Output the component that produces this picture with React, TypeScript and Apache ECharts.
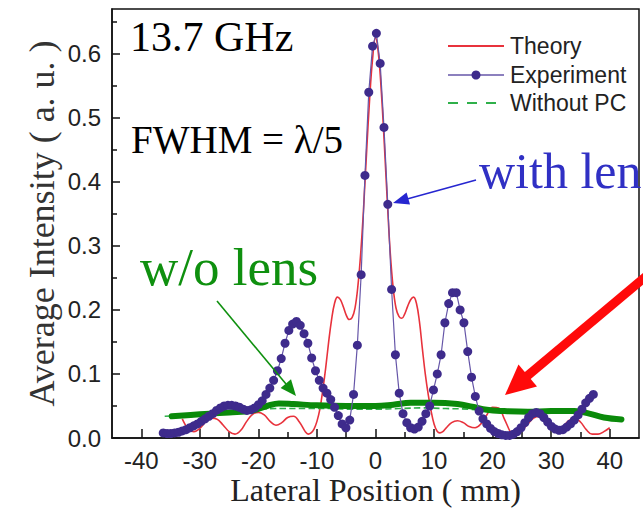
import React, { useEffect, useRef } from "react";
import * as echarts from "echarts";

// ---------- data ----------
const theoryX = [-33, -32.5, -32, -31, -30, -29, -28, -27, -26, -25, -24, -23, -22, -21, -20, -19, -18, -17, -16, -15, -14, -13, -12, -11.5, -11, -10.5, -10, -9.5, -9, -8.5, -8, -7.5, -7, -6.5, -6, -5.5, -5, -4.5, -4, -3.5, -3, -2.5, -2, -1.5, -1, -0.5, 0, 0.5, 1, 1.5, 2, 2.5, 3, 3.5, 4, 4.5, 5, 5.5, 6, 6.5, 7, 7.5, 8, 8.5, 9, 9.5, 10, 10.5, 11, 11.5, 12, 13, 14, 15, 16, 17, 18, 19, 20, 21, 22, 23, 23.5, 24, 25, 26, 27, 28, 29, 30, 31, 32, 33, 34, 35, 36, 37, 38, 39, 40];
const theoryY = [0.030, 0.021, 0.014, 0.010, 0.015, 0.025, 0.031, 0.029, 0.020, 0.010, 0.006, 0.012, 0.026, 0.037, 0.040, 0.036, 0.026, 0.020, 0.024, 0.032, 0.034, 0.025, 0.010, 0.006, 0.008, 0.014, 0.026, 0.045, 0.075, 0.110, 0.150, 0.185, 0.210, 0.220, 0.216, 0.205, 0.192, 0.185, 0.188, 0.203, 0.238, 0.292, 0.365, 0.450, 0.530, 0.592, 0.625, 0.600, 0.540, 0.460, 0.372, 0.292, 0.236, 0.203, 0.190, 0.187, 0.194, 0.206, 0.216, 0.220, 0.210, 0.182, 0.140, 0.100, 0.068, 0.042, 0.022, 0.011, 0.008, 0.010, 0.015, 0.024, 0.027, 0.024, 0.018, 0.016, 0.022, 0.036, 0.048, 0.047, 0.030, 0.010, 0.005, 0.006, 0.012, 0.022, 0.031, 0.034, 0.030, 0.021, 0.015, 0.018, 0.027, 0.031, 0.025, 0.013, 0.006, 0.006, 0.010, 0.016];

const expX = [-36.25, -35.6, -34.95, -34.3, -33.65, -33.0, -32.35, -31.7, -31.05, -30.4, -29.75, -29.1, -28.45, -27.8, -27.15, -26.5, -25.85, -25.2, -24.55, -23.9, -23.25, -22.6, -21.95, -21.3, -20.65, -20.0, -19.35, -18.7, -18.05, -17.4, -16.75, -16.1, -15.45, -14.8, -14.15, -13.5, -12.85, -12.2, -11.55, -10.9, -10.25, -9.6, -8.95, -8.3, -7.65, -7.0, -6.35, -5.7, -5.05, -4.4, -3.75, -3.1, -2.45, -1.8, -1.15, -0.5, 0.15, 0.8, 1.45, 2.1, 2.75, 3.4, 4.05, 4.7, 5.35, 6.0, 6.65, 7.3, 7.95, 8.6, 9.25, 9.9, 10.55, 11.2, 11.85, 12.5, 13.15, 13.8, 14.45, 15.1, 15.75, 16.4, 17.05, 17.7, 18.35, 19.0, 19.65, 20.3, 20.95, 21.6, 22.25, 22.9, 23.55, 24.2, 24.85, 25.5, 26.15, 26.8, 27.45, 28.1, 28.75, 29.4, 30.05, 30.7, 31.35, 32.0, 32.65, 33.3, 33.95, 34.6, 35.25, 35.9, 36.55, 37.2];
const expY = [0.008, 0.007, 0.007, 0.008, 0.009, 0.011, 0.013, 0.016, 0.019, 0.022, 0.026, 0.030, 0.034, 0.038, 0.043, 0.047, 0.050, 0.051, 0.051, 0.050, 0.048, 0.045, 0.043, 0.044, 0.047, 0.052, 0.058, 0.068, 0.078, 0.090, 0.105, 0.124, 0.148, 0.168, 0.178, 0.182, 0.176, 0.163, 0.148, 0.125, 0.105, 0.090, 0.078, 0.070, 0.060, 0.048, 0.035, 0.022, 0.016, 0.028, 0.068, 0.145, 0.255, 0.410, 0.540, 0.612, 0.632, 0.585, 0.485, 0.365, 0.232, 0.130, 0.070, 0.038, 0.024, 0.016, 0.014, 0.017, 0.026, 0.038, 0.050, 0.075, 0.100, 0.130, 0.180, 0.210, 0.227, 0.227, 0.200, 0.180, 0.135, 0.095, 0.065, 0.042, 0.030, 0.022, 0.015, 0.010, 0.007, 0.005, 0.004, 0.004, 0.006, 0.010, 0.016, 0.024, 0.032, 0.038, 0.040, 0.038, 0.032, 0.025, 0.018, 0.014, 0.012, 0.013, 0.017, 0.022, 0.028, 0.036, 0.045, 0.055, 0.062, 0.068];

const noPcX = [-36, -32, -28, -24, -20, -16, -12, -8, -4, 0, 4, 8, 12, 16, 20, 24, 28, 32, 37];
const noPcY = [0.034, 0.036, 0.039, 0.042, 0.045, 0.046, 0.046, 0.046, 0.045, 0.045, 0.046, 0.047, 0.046, 0.045, 0.042, 0.040, 0.039, 0.039, 0.037];

const handX = [-34.8, -30, -25, -21, -18.5, -16.5, -14, -10, -5, 0, 3, 6, 10, 14, 16.5, 19, 22, 26, 30, 34, 36.5, 39, 42];
const handY = [0.034, 0.037, 0.040, 0.043, 0.050, 0.054, 0.053, 0.051, 0.050, 0.050, 0.052, 0.055, 0.055, 0.053, 0.049, 0.044, 0.042, 0.041, 0.042, 0.042, 0.038, 0.032, 0.029];

const xMajor = [-40, -30, -20, -10, 0, 10, 20, 30, 40];
const xMinor = [-35, -25, -15, -5, 5, 15, 25, 35];
const yMajor = [0, 0.1, 0.2, 0.3, 0.4, 0.5, 0.6];
const yMinor = [0.05, 0.15, 0.25, 0.35, 0.45, 0.55, 0.65];

const legendNames = ["Theory", "Experiment", "Without PC"];

const zip = (xs: number[], ys: number[]) => xs.map((x, i) => [x, ys[i]]);

const SERIF = "Liberation Serif";
const SANS = "Liberation Sans";
const AX = "#111";
const RED = "#e8323c";
const PURPLE = "#3e2b8c";
const PLINE = "#6656a8";
const DGREEN = "#2fb04a";

export default function App() {
  const ref = useRef<HTMLDivElement>(null);
  useEffect(() => {
    document.body.style.margin = "0";
    const chart = echarts.init(ref.current!, undefined, { renderer: "svg" });
    const tickLine = { color: AX, width: 1.5 };
    const legX = 448;
    const legW = 56;
    const legY = [46, 75, 103];
    const option: any = {
      animation: false,
      backgroundColor: "#fff",
      grid: {
        left: 112, right: 4, top: 9, bottom: 70, show: true, borderColor: AX, borderWidth: 1.5,
        containLabel: false, outerBoundsMode: "none",
      },
      xAxis: [
        {
          type: "value", min: -45, max: 45, position: "bottom",
          axisLine: { show: true, onZero: false, lineStyle: tickLine },
          axisTick: { show: true, inside: true, length: 9, customValues: xMajor, lineStyle: tickLine },
          axisLabel: { customValues: xMajor, margin: 10, fontSize: 24, fontFamily: SANS, color: "#222", formatter: (v: number) => String(v) },
          splitLine: { show: false },
          name: "Lateral Position ( mm)", nameLocation: "middle", nameGap: 36, nameMoveOverlap: false,
          nameTextStyle: { fontSize: 32, fontFamily: SERIF, color: "#222" },
        },
        {
          type: "value", min: -45, max: 45, position: "bottom",
          axisLine: { show: false, onZero: false },
          axisTick: { show: true, inside: true, length: 6, customValues: xMinor, lineStyle: tickLine },
          axisLabel: { show: false },
          splitLine: { show: false },
        },
      ],
      yAxis: [
        {
          type: "value", min: 0, max: 0.67, position: "left",
          axisLine: { show: true, onZero: false, lineStyle: tickLine },
          axisTick: { show: true, inside: true, length: 8, customValues: yMajor, lineStyle: tickLine },
          axisLabel: { customValues: yMajor, margin: 11, fontSize: 24, fontFamily: SANS, color: "#222", formatter: (v: number) => v.toFixed(1) },
          splitLine: { show: false },
          name: "Average Intensity ( a. u. )", nameLocation: "middle", nameGap: 52, nameMoveOverlap: false,
          nameTextStyle: { fontSize: 36, fontFamily: SERIF, color: "#333" },
        },
        {
          type: "value", min: 0, max: 0.67, position: "left",
          axisLine: { show: false, onZero: false },
          axisTick: { show: true, inside: true, length: 5, customValues: yMinor, lineStyle: tickLine },
          axisLabel: { show: false },
          splitLine: { show: false },
        },
      ],
      series: [
        {
          name: legendNames[0], type: "line", data: zip(theoryX, theoryY), smooth: 0.4,
          symbol: "none", color: RED,
          lineStyle: { color: RED, width: 1.6 }, z: 2,
        },
        {
          name: legendNames[2], type: "line", data: zip(noPcX, noPcY), smooth: true,
          symbol: "none", color: DGREEN,
          lineStyle: { color: DGREEN, width: 1.6, type: "dashed" }, z: 3,
        },
        {
          name: "hand", type: "line", data: zip(handX, handY), smooth: 0.4,
          symbol: "none", color: "#0a8a0a",
          lineStyle: { color: "#0a8a0a", width: 6, cap: "round" }, z: 4,
        },
        {
          name: legendNames[1], type: "line", data: zip(expX, expY),
          symbol: "circle", symbolSize: 9, showSymbol: true, color: PURPLE,
          itemStyle: { color: PURPLE },
          lineStyle: { color: PLINE, width: 1.2 }, z: 5,
        },
      ],
      graphic: [
        // legend
        { type: "line", z: 60, shape: { x1: legX, y1: legY[0], x2: legX + legW, y2: legY[0] }, style: { stroke: RED, lineWidth: 2.2 } },
        { type: "line", z: 60, shape: { x1: legX, y1: legY[1], x2: legX + legW, y2: legY[1] }, style: { stroke: PLINE, lineWidth: 1.6 } },
        { type: "circle", z: 61, shape: { cx: legX + legW / 2, cy: legY[1], r: 4.5 }, style: { fill: PURPLE } },
        { type: "line", z: 60, shape: { x1: legX, y1: legY[2], x2: legX + legW, y2: legY[2] }, style: { stroke: DGREEN, lineWidth: 1.8, lineDash: [10, 9] } },
        { type: "text", z: 60, x: 510, y: legY[0], style: { text: legendNames[0], fontSize: 23, fontFamily: SANS, fill: "#222", verticalAlign: "middle", align: "left" } },
        { type: "text", z: 60, x: 510, y: legY[1], style: { text: legendNames[1], fontSize: 23, fontFamily: SANS, fill: "#222", verticalAlign: "middle", align: "left" } },
        { type: "text", z: 60, x: 510, y: legY[2], style: { text: legendNames[2], fontSize: 23, fontFamily: SANS, fill: "#222", verticalAlign: "middle", align: "left" } },
        // annotations
        { type: "text", x: 130, y: 37, z: 50, style: { text: "13.7 GHz", fontSize: 42, fontFamily: SERIF, fill: "#000", verticalAlign: "middle", align: "left" } },
        { type: "text", x: 131, y: 139, z: 50, style: { text: "FWHM = \u03bb/5", fontSize: 39, fontFamily: SERIF, fill: "#000", verticalAlign: "middle", align: "left" } },
        { type: "text", x: 479, y: 171, z: 50, style: { text: "with lens", fontSize: 50, fontFamily: SERIF, fill: "#3030c4", verticalAlign: "middle", align: "left" } },
        { type: "text", x: 140, y: 267, z: 50, style: { text: "w/o lens", fontSize: 53, fontFamily: SERIF, fill: "#0f900f", verticalAlign: "middle", align: "left" } },
        // blue arrow
        { type: "line", z: 50, shape: { x1: 476, y1: 180, x2: 408, y2: 198.7 }, style: { stroke: "#2626d0", lineWidth: 1.6 } },
        { type: "polygon", z: 50, shape: { points: [[393, 203], [410, 204.6], [406.6, 192.6]] }, style: { fill: "#2626d0" } },
        // green arrow
        { type: "line", z: 50, shape: { x1: 217, y1: 301, x2: 286, y2: 384 }, style: { stroke: "#0f900f", lineWidth: 1.6 } },
        { type: "polygon", z: 50, shape: { points: [[296, 396], [291, 379.3], [280.6, 388]] }, style: { fill: "#0f900f" } },
        // red arrow
        { type: "line", z: 50, shape: { x1: 662, y1: 263, x2: 526, y2: 377 }, style: { stroke: "#ff0a0a", lineWidth: 9 } },
        { type: "polygon", z: 50, shape: { points: [[505, 395], [537, 386.5], [518.5, 364.5]] }, style: { fill: "#ff0a0a" } },
      ],
    };
    chart.setOption(option);
    return () => chart.dispose();
  }, []);
  return <div ref={ref} style={{ width: 643, height: 508 }} />;
}
